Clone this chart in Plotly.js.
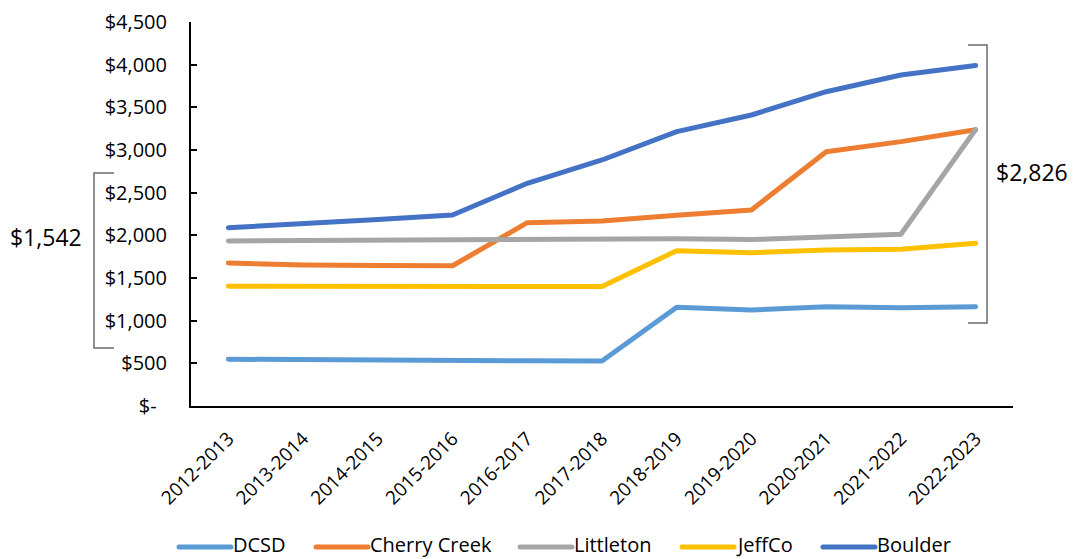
<!DOCTYPE html>
<html>
<head>
<meta charset="utf-8">
<script src="https://cdn.plot.ly/plotly-3.0.1.min.js"></script>
<style>
  html, body { margin: 0; padding: 0; background: #fff; }
  #chart { width: 1073px; height: 559px; }
  #chart path.js-line { stroke-linecap: round; stroke-linejoin: round; }
</style>
</head>
<body>
<div id="chart"></div>
<script>
// School years on the category axis
const years = ["2012-2013", "2013-2014", "2014-2015", "2015-2016", "2016-2017", "2017-2018",
               "2018-2019", "2019-2020", "2020-2021", "2021-2022", "2022-2023"];

// Per-district values (dollars)
const dcsd        = [548, 540, 537, 537, 530, 527, 1157, 1125, 1164, 1152, 1164];
const cherryCreek = [1676, 1652, 1647, 1644, 2148, 2168, 2235, 2297, 2980, 3098, 3237];
const littleton   = [1934, 1938, 1942, 1945, 1950, 1955, 1961, 1950, 1984, 2012, 3240];
const jeffco      = [1403, 1400, 1396, 1395, 1396, 1400, 1820, 1797, 1828, 1836, 1906];
const boulder     = [2090, 2133, 2185, 2238, 2610, 2883, 3215, 3410, 3683, 3879, 3990];

const seriesNames  = ["DCSD", "Cherry Creek", "Littleton", "JeffCo", "Boulder"];
const seriesValues = [dcsd, cherryCreek, littleton, jeffco, boulder];
const seriesColors = ["#5B9BD5", "#ED7D31", "#A5A5A5", "#FFC000", "#4472C4"];

// Y axis ticks
const yTickVals = [0, 500, 1000, 1500, 2000, 2500, 3000, 3500, 4000, 4500];
const yTickText = ["$-\u00a0\u00a0", "$500", "$1,000", "$1,500", "$2,000", "$2,500",
                   "$3,000", "$3,500", "$4,000", "$4,500"];

const fmt = v => "$" + v.toLocaleString("en-US");
const gapFirst = boulder[0] - dcsd[0];
const gapLast = boulder[boulder.length - 1] - dcsd[dcsd.length - 1];

const FONT = "'Open Sans', 'Noto Sans', sans-serif";

// Figure geometry (pixels)
const W = 1073, H = 559;
const M = { l: 191, r: 60, t: 22, b: 153 };
const plotW = W - M.l - M.r, plotH = H - M.t - M.b;
const px2x = px => (px - M.l) / plotW;          // pixel -> paper x
const px2y = py => (H - M.b - py) / plotH;      // pixel -> paper y

const traces = seriesNames.map((name, i) => ({
  type: "scatter",
  mode: "lines",
  name: name,
  x: years,
  y: seriesValues[i],
  line: { color: seriesColors[i], width: 5 },
  hoverinfo: "x+y+name",
  showlegend: false
}));

// Key below the chart: swatch start positions and swatch length (pixels)
const keyStart = [179, 316, 520, 682, 823];
const keySwatch = 52;
const keyLineY = 547;
const keyTextY = 544;

const keyShapes = seriesNames.map((name, i) => ({
  type: "line", xref: "paper", yref: "paper",
  x0: px2x(keyStart[i]), x1: px2x(keyStart[i] + keySwatch),
  y0: px2y(keyLineY), y1: px2y(keyLineY),
  line: { color: seriesColors[i], width: 5 }
}));
const keyLabels = seriesNames.map((name, i) => ({
  xref: "paper", yref: "paper",
  x: px2x(keyStart[i] + keySwatch), y: px2y(keyTextY),
  text: name, showarrow: false, xanchor: "left", yanchor: "middle",
  font: { family: FONT, size: 20, color: "#000" }
}));

const bracketColor = "#6b6b6b";
const layout = {
  width: W,
  height: H,
  margin: { l: M.l, r: M.r, t: M.t, b: M.b, autoexpand: false },
  paper_bgcolor: "#ffffff",
  plot_bgcolor: "#ffffff",
  font: { family: FONT, color: "#000000", size: 20 },
  showlegend: false,
  xaxis: {
    type: "category",
    range: [-0.5, 10.5],
    showgrid: false,
    zeroline: false,
    showline: true,
    linecolor: "#000",
    linewidth: 2,
    ticks: "",
    tickangle: -45,
    ticklabelstandoff: 12,
    tickfont: { family: FONT, size: 19, color: "#000" },
    fixedrange: true
  },
  yaxis: {
    range: [0, 4500],
    tickvals: yTickVals,
    ticktext: yTickText,
    showgrid: false,
    zeroline: false,
    showline: true,
    linecolor: "#000",
    linewidth: 2,
    ticks: "inside",
    ticklen: 6,
    tickwidth: 2,
    tickcolor: "#000",
    ticklabelstandoff: 18,
    tickfont: { family: FONT, size: 20, color: "#000" },
    fixedrange: true
  },
  shapes: [
    // bracket at the start of the period
    { type: "path", xref: "paper", yref: "paper",
      path: `M ${px2x(114)} ${px2y(173)} L ${px2x(94)} ${px2y(173)} L ${px2x(94)} ${px2y(348)} L ${px2x(114)} ${px2y(348)}`,
      line: { color: bracketColor, width: 1.5 } },
    // bracket at the end of the period
    { type: "path", xref: "paper", yref: "paper",
      path: `M ${px2x(968)} ${px2y(45)} L ${px2x(987)} ${px2y(45)} L ${px2x(987)} ${px2y(323)} L ${px2x(968)} ${px2y(323)}`,
      line: { color: bracketColor, width: 1.5 } }
  ].concat(keyShapes),
  annotations: [
    { xref: "paper", yref: "paper", x: px2x(46), y: px2y(237), text: fmt(gapFirst),
      showarrow: false, xanchor: "center", yanchor: "middle",
      font: { family: FONT, size: 23, color: "#000" } },
    { xref: "paper", yref: "paper", x: px2x(1032), y: px2y(172), text: fmt(gapLast),
      showarrow: false, xanchor: "center", yanchor: "middle",
      font: { family: FONT, size: 23, color: "#000" } }
  ].concat(keyLabels)
};

Plotly.newPlot("chart", traces, layout, { displayModeBar: false, staticPlot: true }).then(gd => {
  // round the ends of the key swatches
  gd.querySelectorAll(".shapelayer path").forEach((p, idx) => {
    if (idx >= 2) p.style.strokeLinecap = "round";
  });
});
</script>
</body>
</html>
